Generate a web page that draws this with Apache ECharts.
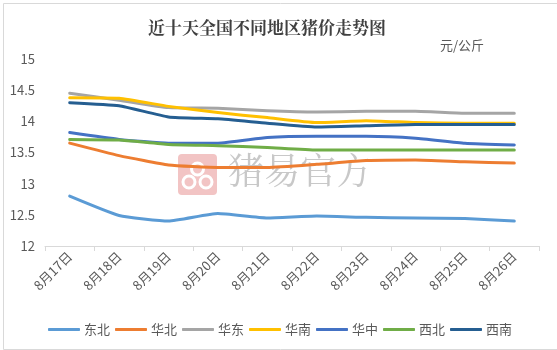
<!DOCTYPE html>
<html><head><meta charset="utf-8">
<script src="https://cdn.jsdelivr.net/npm/echarts@6/dist/echarts.min.js"></script>
<style>html,body{margin:0;padding:0;background:#fff}#c{width:557px;height:350px}</style>
</head><body><div id="c"></div>
<script>
const categories = ['8月17日','8月18日','8月19日','8月20日','8月21日','8月22日','8月23日','8月24日','8月25日','8月26日'];
const seriesNames = ['东北','华北','华东','华南','华中','西北','西南'];
const dongbei = [12.80,12.49,12.40,12.52,12.45,12.48,12.46,12.45,12.44,12.40];
const huabei  = [13.65,13.45,13.30,13.26,13.26,13.31,13.37,13.38,13.35,13.33];
const huadong = [14.45,14.34,14.22,14.21,14.17,14.15,14.16,14.16,14.13,14.13];
const huanan  = [14.38,14.37,14.24,14.14,14.06,13.98,14.01,13.98,13.97,13.97];
const huazhong= [13.82,13.71,13.65,13.65,13.74,13.76,13.76,13.73,13.65,13.62];
const xibei   = [13.71,13.70,13.63,13.61,13.58,13.54,13.54,13.54,13.54,13.54];
const xinan   = [14.30,14.25,14.07,14.04,13.97,13.91,13.93,13.95,13.95,13.95];
const allData = [dongbei,huabei,huadong,huanan,huazhong,xibei,xinan];
const colors = ['#5B9BD5','#ED7D31','#A5A5A5','#FFC000','#4472C4','#70AD47','#255E91'];

const chart = echarts.init(document.getElementById('c'), null, {renderer:'canvas'});
const font = '"Noto Sans CJK SC", sans-serif';
chart.setOption({
  animation:false,
  color: colors,
  title:{text:'近十天全国不同地区猪价走势图', left:262, top:14, textAlign:'center',
    textStyle:{fontFamily:'"Noto Serif CJK SC","Noto Sans CJK SC",serif', fontSize:17, fontWeight:'bold', color:'#404040'}},
  graphic:[
    {type:'rect', left:1, top:1, shape:{width:554, height:346}, style:{fill:'none', stroke:'#D9D9D9', lineWidth:1}, z:-1},
    {type:'text', left:440, top:39, style:{text:'元/公斤', font:'13px '+font, fill:'#595959'}},
    {type:'group', left:178, top:154, z:0, children:[
      {type:'rect', shape:{x:0,y:0,width:39,height:41,r:4}, style:{fill:'#F2C4C4'}},
      {type:'circle', shape:{cx:19.5,cy:15,r:6}, style:{fill:'none', stroke:'#fff', lineWidth:3}},
      {type:'circle', shape:{cx:11,cy:28,r:6}, style:{fill:'none', stroke:'#fff', lineWidth:3}},
      {type:'circle', shape:{cx:28,cy:28,r:6}, style:{fill:'none', stroke:'#fff', lineWidth:3}}
    ]},
    {type:'text', left:228, top:152, z:0, style:{text:'猪易官方', font:'36px "Noto Serif CJK SC","Noto Sans CJK SC",serif', fill:'#C8C8C8'}}
  ],
  legend:{data:seriesNames, left:43, top:318, itemWidth:32, itemHeight:3, itemGap:5, icon:'roundRect',
    textStyle:{fontFamily:font, fontSize:13, color:'#595959', padding:[0,0,0,-1]}},
  grid:{left:45, right:18, top:59, bottom:104, containLabel:false},
  xAxis:{type:'category', data:categories, boundaryGap:true,
    axisLine:{lineStyle:{color:'#D9D9D9', width:1}},
    axisTick:{show:true, length:5, lineStyle:{color:'#D9D9D9'}},
    axisLabel:{rotate:45, fontFamily:font, fontSize:13, color:'#595959', margin:8}},
  yAxis:{type:'value', min:12, max:15, interval:0.5,
    axisLine:{show:false}, axisTick:{show:false}, splitLine:{show:false},
    axisLabel:{fontFamily:font, fontSize:13, color:'#595959', margin:10}},
  series: seriesNames.map((n,i)=>({name:n, type:'line', data:allData[i], showSymbol:false, symbol:'none',
    smooth:0.15, lineStyle:{width:3, color:colors[i], cap:'round', join:'round'}, z:2}))
});
</script></body></html>
